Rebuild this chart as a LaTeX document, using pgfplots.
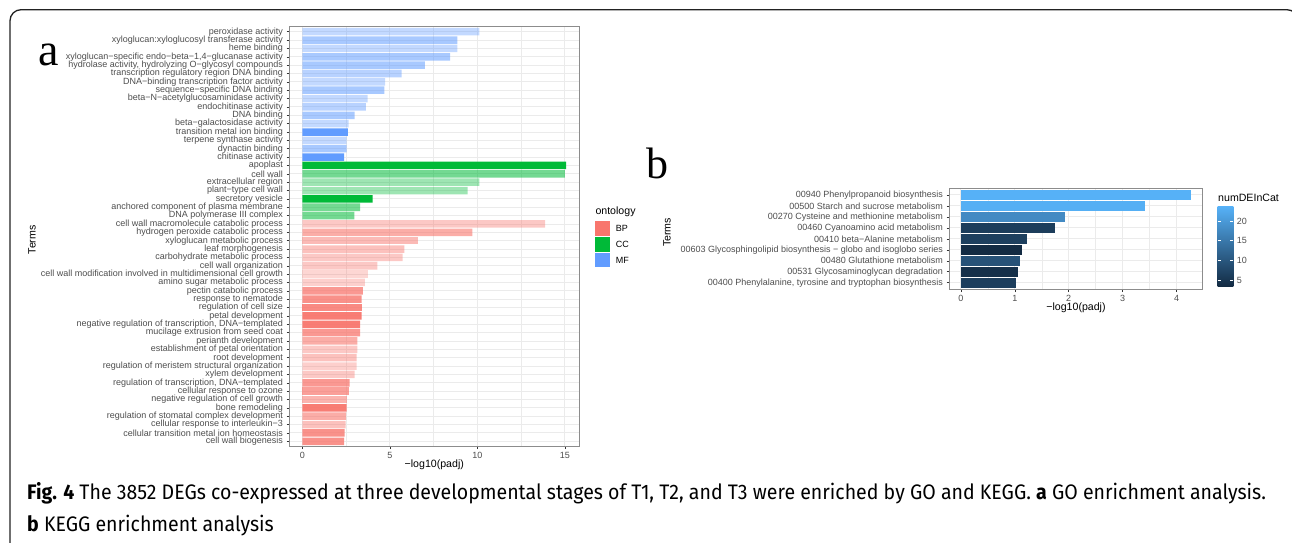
\documentclass[border=0pt]{standalone}
\usepackage{fontspec}
\setmainfont{Liberation Sans}
\newfontfamily\serifbig{Liberation Serif}
\newfontfamily\capfont{Fira Sans}[FakeStretch=0.93]
\usepackage{pgfplots}
\pgfplotsset{compat=1.18}

\definecolor{BP}{HTML}{F8766D}
\definecolor{CC}{HTML}{00BA38}
\definecolor{MF}{HTML}{619CFF}
\definecolor{gridc}{HTML}{EBEBEB}
\definecolor{txt}{HTML}{4D4D4D}
\definecolor{tickc}{HTML}{333333}
\definecolor{frame}{HTML}{222222}
\definecolor{k0}{HTML}{132B43}
\definecolor{k2}{HTML}{336A98}
\definecolor{k4}{HTML}{56B1F7}

\newcommand\tickfont{\fontsize{9}{9}\selectfont}
\newcommand\titlefont{\fontsize{10.6}{10.6}\selectfont}

% one group of bars sharing a colour and an alpha
\newcommand\gobar[3]{\addplot[xbar, bar width=0.9, bar shift=0pt, draw=none, fill=#1, fill opacity=#2] coordinates {#3};}

\pgfplotsset{
  ggbw/.style={
    anchor=south west, scale only axis,
    axis line style={draw=black!45, line width=0.6pt},
    xmajorgrids, ymajorgrids, xminorgrids,
    major grid style={gridc, line width=0.9pt},
    minor grid style={gridc, line width=0.45pt},
    tick align=outside, major tick length=2.8pt, minor tick length=0pt,
    xtick pos=left, ytick pos=left,
    tick style={tickc, line width=0.5pt},
    ticklabel style={font=\tickfont, text=txt},
    /pgf/number format/assume math mode=true,
    label style={font=\titlefont, text=black},
    xlabel style={anchor=center}, ylabel style={anchor=center},
  },
}

\begin{document}
\begin{tikzpicture}
\useasboundingbox (0,0) rectangle (1292pt,542pt);
\draw[frame, line width=1.3pt, rounded corners=11pt] (10pt,-20pt) -- (10pt,532.3pt) -- (1298pt,532.3pt) -- (1298pt,-20pt);

% ---------- a: GO enrichment ----------
\begin{axis}[ggbw, at={(289.3pt,95.7pt)}, width=290pt, height=419.6pt,
  xmin=-0.754, xmax=15.83, ymin=0.4, ymax=50.6,
  xtick={0,5,10,15}, minor xtick={2.5,7.5,12.5},
  ytick={1,...,50},
  yticklabels={cell wall biogenesis, cellular transition metal ion homeostasis,
    cellular response to interleukin−3, regulation of stomatal complex development,
    bone remodeling, negative regulation of cell growth, cellular response to ozone,
    {regulation of transcription, DNA−templated}, xylem development,
    regulation of meristem structural organization, root development,
    establishment of petal orientation, perianth development,
    mucilage extrusion from seed coat, {negative regulation of transcription, DNA−templated},
    petal development, regulation of cell size, response to nematode,
    pectin catabolic process, amino sugar metabolic process,
    cell wall modification involved in multidimensional cell growth,
    cell wall organization, carbohydrate metabolic process, leaf morphogenesis,
    xyloglucan metabolic process, hydrogen peroxide catabolic process,
    cell wall macromolecule catabolic process,
    DNA polymerase III complex, anchored component of plasma membrane,
    secretory vesicle, plant−type cell wall, extracellular region, cell wall, apoplast,
    chitinase activity, dynactin binding, terpene synthase activity,
    transition metal ion binding, beta−galactosidase activity, DNA binding,
    endochitinase activity, beta−N−acetylglucosaminidase activity,
    sequence−specific DNA binding, DNA−binding transcription factor activity,
    transcription regulatory region DNA binding,
    {hydrolase activity, hydrolyzing O−glycosyl compounds},
    {xyloglucan−specific endo−beta−1,4−glucanase activity},
    heme binding, xyloglucan:xyloglucosyl transferase activity, peroxidase activity},
  xlabel={−log10(padj)}, ylabel={Terms},
  xlabel style={at={(axis description cs:0.5,-0.0446)}},
  ylabel style={at={(axis description cs:-0.887,0.492)}},
]
% MF
\gobar{MF}{0.38}{(10.11,50) (8.86,48) (4.73,44) (3.73,42) (2.64,39) (2.53,37)}
\gobar{MF}{0.45}{(5.67,45) (3.63,41)}
\gobar{MF}{0.55}{(8.86,49) (8.44,47) (7.00,46) (4.68,43) (2.98,40) (2.53,36)}
\gobar{MF}{1}{(2.60,38) (2.38,35)}
% CC
\gobar{CC}{0.38}{(10.11,32) (9.45,31)}
\gobar{CC}{0.55}{(15.00,33) (3.29,29) (2.97,28)}
\gobar{CC}{1}{(15.08,34) (4.01,30)}
% BP
\gobar{BP}{0.3}{(3.73,21)}
\gobar{BP}{0.35}{(3.57,20) (3.10,10)}
\gobar{BP}{0.4}{(13.88,27) (5.72,23) (4.28,22) (3.14,12) (2.98,9)}
\gobar{BP}{0.45}{(5.82,24) (3.10,11) (2.47,3)}
\gobar{BP}{0.5}{(6.62,25)}
\gobar{BP}{0.55}{(2.53,6)}
\gobar{BP}{0.6}{(9.71,26) (3.14,13) (2.49,4)}
\gobar{BP}{0.7}{(2.68,7)}
\gobar{BP}{0.75}{(3.46,19) (3.29,14) (2.70,8)}
\gobar{BP}{0.8}{(3.38,18) (2.41,2) (2.38,1)}
\gobar{BP}{0.85}{(3.38,17)}
\gobar{BP}{0.95}{(3.38,16) (3.29,15) (2.53,5)}
\end{axis}

% legend of a
\node[anchor=west, font=\titlefont, inner sep=0pt] at (595.3pt,330.3pt) {ontology};
\fill[BP] (595.3pt,306.3pt) rectangle ++(14.7pt,14.7pt);
\fill[CC] (595.3pt,290.3pt) rectangle ++(14.7pt,14.7pt);
\fill[MF] (595.3pt,274.7pt) rectangle ++(14.7pt,14.7pt);
\node[anchor=west, font=\tickfont, inner sep=0pt] at (615.7pt,313.7pt) {BP};
\node[anchor=west, font=\tickfont, inner sep=0pt] at (615.7pt,297.8pt) {CC};
\node[anchor=west, font=\tickfont, inner sep=0pt] at (615.7pt,282pt) {MF};

% ---------- b: KEGG enrichment ----------
\begin{axis}[ggbw, at={(949.3pt,252.7pt)}, width=253.4pt, height=101pt,
  xmin=-0.2135, xmax=4.4835, ymin=0.4, ymax=9.6,
  xtick={0,1,2,3,4}, minor xtick={0.5,1.5,2.5,3.5},
  ytick={1,...,9},
  yticklabels={{00400 Phenylalanine, tyrosine and tryptophan biosynthesis},
    00531 Glycosaminoglycan degradation, 00480 Glutathione metabolism,
    00603 Glycosphingolipid biosynthesis − globo and isoglobo series,
    00410 beta−Alanine metabolism, 00460 Cyanoamino acid metabolism,
    00270 Cysteine and methionine metabolism, 00500 Starch and sucrose metabolism,
    00940 Phenylpropanoid biosynthesis},
  xlabel={−log10(padj)}, ylabel={Terms},
  xlabel style={at={(axis description cs:0.5,-0.185)}},
  ylabel style={at={(axis description cs:-1.114,0.562)}},
]
% fill = numDEInCat on the gradient #132B43 -> #56B1F7
\gobar{k4}{1}{(4.27,9)}
\gobar{k4!97!k2}{1}{(3.42,8)}
\gobar{k2!55!k4}{1}{(1.93,7)}
\gobar{k0!72!k2}{1}{(1.75,6)}
\gobar{k0!68!k2}{1}{(1.23,5)}
\gobar{k0}{1}{(1.14,4)}
\gobar{k2!62!k0}{1}{(1.10,3)}
\gobar{k0!92!k2}{1}{(1.06,2)}
\gobar{k0!70!k2}{1}{(1.02,1)}
\end{axis}

% colour bar of b
\node[anchor=west, font=\titlefont, inner sep=0pt] at (1218pt,344pt) {numDEInCat};
\begin{axis}[anchor=south west, scale only axis, at={(1217.7pt,256pt)},
  width=15.6pt, height=79.3pt, xmin=0, xmax=1, ymin=3.47, ymax=23.65,
  axis line style={draw=none}, axis on top,
  xtick=\empty, ytick={5,10,15,20}, ytick pos=both, yticklabel pos=right,
  tick align=inside, major tick length=3pt, tick style={white, line width=0.6pt},
  ticklabel style={font=\tickfont, text=txt},
  /pgf/number format/assume math mode=true,
]
\shade[bottom color=k0, middle color=k2, top color=k4] (axis cs:0,3.47) rectangle (axis cs:1,23.65);
\end{axis}

% panel letters
\node[anchor=base west, inner sep=0pt, font=\serifbig\fontsize{46}{46}\selectfont] at (38pt,476pt) {a};
\node[anchor=base west, inner sep=0pt, font=\serifbig\fontsize{44}{44}\selectfont] at (646pt,364pt) {b};

% caption
\node[anchor=base west, inner sep=0pt, font=\capfont\fontsize{21}{21}\selectfont] at (27pt,43pt)
  {\textbf{Fig. 4} The 3852 DEGs co-expressed at three developmental stages of T1, T2, and T3 were enriched by GO and KEGG. \textbf{a} GO enrichment analysis.};
\node[anchor=base west, inner sep=0pt, font=\capfont\fontsize{21}{21}\selectfont] at (27pt,11pt)
  {\textbf{b} KEGG enrichment analysis};
\end{tikzpicture}
\end{document}
